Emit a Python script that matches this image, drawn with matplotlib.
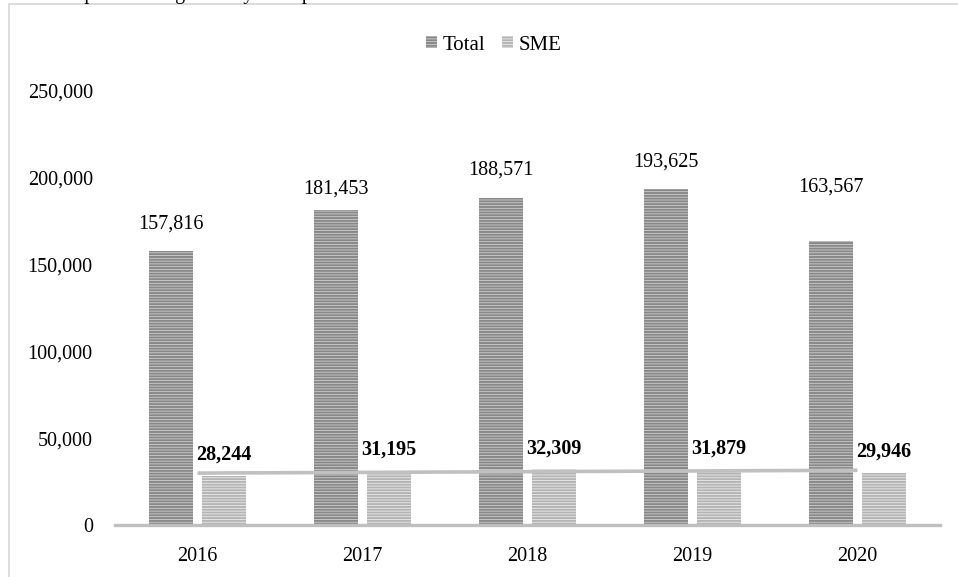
import matplotlib
matplotlib.use('Agg')
import matplotlib.pyplot as plt
import numpy as np
from matplotlib.patches import Rectangle

years = ['2016', '2017', '2018', '2019', '2020']
total = [157816, 181453, 188571, 193625, 163567]
sme = [28244, 31195, 32309, 31879, 29946]
yticks = [0, 50000, 100000, 150000, 200000, 250000]
title_text = 'Export Earnings of Key Enterprises'

# label placement offsets (points above bar top), as positioned in the original
total_label_pad = [16.5, 11.5, 16.5, 16, 36]
sme_label_pad = [12, 12, 11, 11.5, 12]

plt.rcParams['font.family'] = ['Liberation Serif', 'DejaVu Serif']
plt.rcParams['hatch.linewidth'] = 1.4

W, H = 958, 577
fig = plt.figure(figsize=(W / 100, H / 100), dpi=100)

# outer frame (extends beyond right/bottom edges)
fig.patches.append(Rectangle((9 / W, -0.2), 1.2, (H - 4) / H + 0.2, transform=fig.transFigure,
                             fill=False, edgecolor='#d9d9d9', linewidth=1.3))
# cut-off caption at the very top
fig.text(62 / W, (H + 1) / H, title_text, fontsize=14.5, va='baseline', ha='left')

ax = fig.add_axes([115 / W, 52 / H, 825 / W, 434 / H])
x = np.arange(len(years))
w = 0.267
off = 0.16

ax.bar(x - off, total, w, color='#cfcfcf', hatch='------', edgecolor='#888888',
       linewidth=0, label='Total', zorder=2)
ax.bar(x + off, sme, w, color='#ececec', hatch='------', edgecolor='#b4b4b4',
       linewidth=0, label='SME', zorder=2)

# linear trend line of SME
coef = np.polyfit(x, sme, 1)
ax.plot([x[0], x[-1]], np.polyval(coef, [x[0], x[-1]]), color='#c0c0c0', lw=2.6,
        solid_capstyle='butt', zorder=3)

for xi, v, p in zip(x, total, total_label_pad):
    ax.annotate(f'{v:,}', (xi - off, v), xytext=(0, p), textcoords='offset points',
                ha='center', va='baseline', fontsize=14.5, color='#000000', zorder=4)
for xi, v, p in zip(x, sme, sme_label_pad):
    ax.annotate(f'{v:,}', (xi + off, v), xytext=(0, p), textcoords='offset points',
                ha='center', va='baseline', fontsize=14.5, fontweight='bold', color='#000000', zorder=4)

ax.set_xlim(-0.5, len(years) - 0.5)
ax.set_ylim(0, 250000)
ax.set_xticks(x)
ax.set_xticklabels(years, fontsize=14.5)
ax.set_yticks(yticks)
ax.set_yticklabels([f'{t:,}' for t in yticks], fontsize=14.5)
ax.tick_params(axis='both', length=0)
ax.tick_params(axis='y', pad=16)
ax.tick_params(axis='x', pad=16)
for s in ['top', 'right', 'left']:
    ax.spines[s].set_visible(False)
ax.spines['bottom'].set_color('#bfbfbf')
ax.spines['bottom'].set_linewidth(2.4)
ax.spines['bottom'].set_zorder(5)

fig.legend(loc='center', bbox_to_anchor=(494 / W, 1 - 45 / H), ncol=2, frameon=False,
           fontsize=15, handlelength=0.5, handleheight=0.5, handletextpad=0.3,
           columnspacing=0.8)

fig.savefig('out.png', dpi=100)
